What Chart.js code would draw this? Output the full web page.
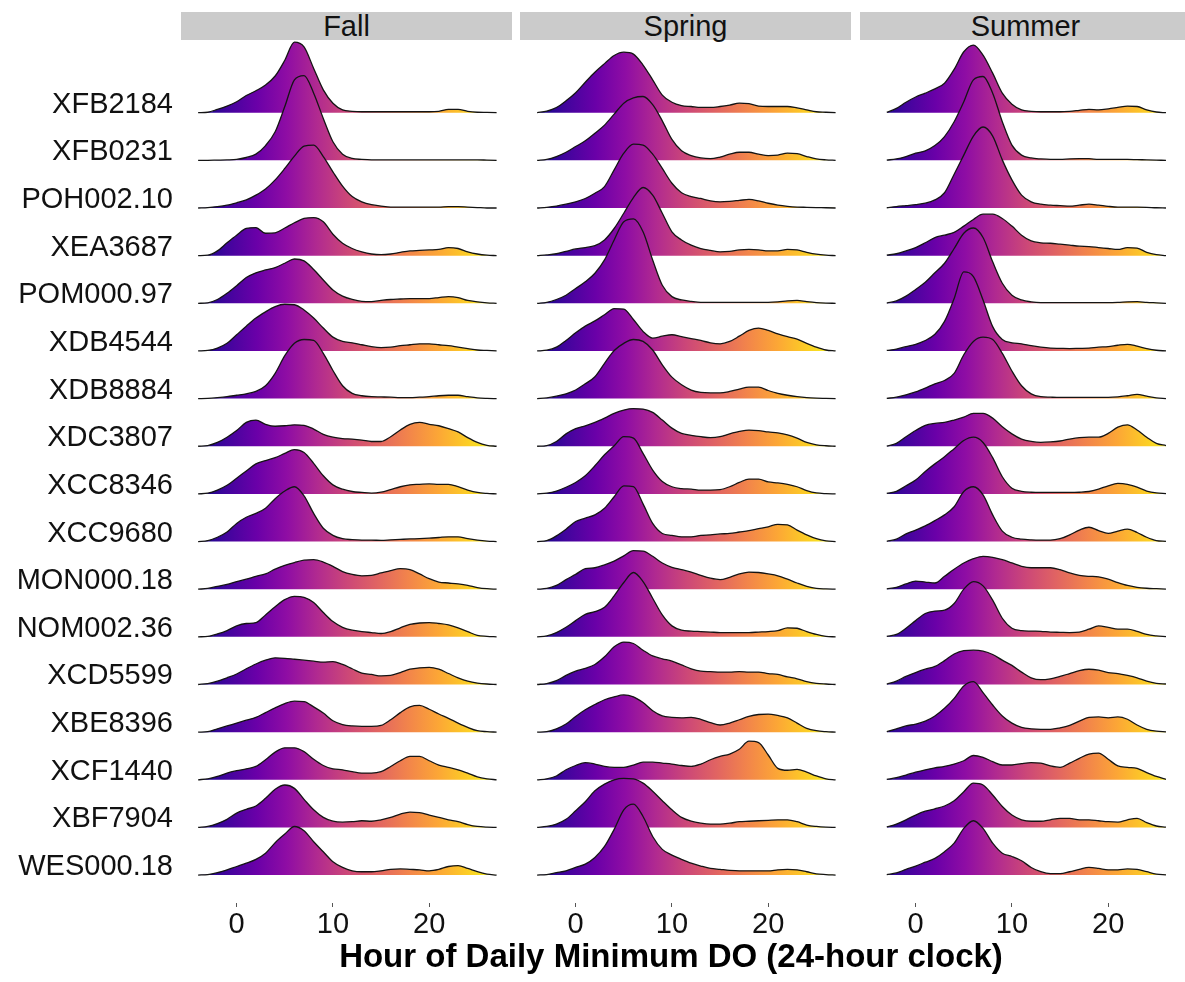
<!DOCTYPE html>
<html>
<head>
<meta charset="utf-8">
<title>Hour of Daily Minimum DO</title>
<script src="https://cdn.jsdelivr.net/npm/chart.js@4.4.1/dist/chart.umd.min.js"></script>
<style>
  body { margin: 0; width: 1185px; height: 982px; background: #fff; position: relative; overflow: hidden;
         font-family: "Liberation Sans", Arial, sans-serif; }
  canvas { position: absolute; top: 40px; }
  .strip { position: absolute; top: 12px; height: 28px; width: 331px; background: #cbcbcb; color: #111;
           font-size: 29px; line-height: 29px; text-align: center; }
  #xtitle { position: absolute; left: 181px; width: 980px; top: 937px; text-align: center;
            font-size: 33px; font-weight: bold; color: #000; }
</style>
</head>
<body>
<div class="strip" style="left:181px">Fall</div>
<div class="strip" style="left:520px">Spring</div>
<div class="strip" style="left:860px">Summer</div>
<canvas id="fall" width="512" height="913" style="left:0"></canvas>
<canvas id="spring" width="331" height="913" style="left:520px"></canvas>
<canvas id="summer" width="331" height="913" style="left:860px"></canvas>
<div id="xtitle">Hour of Daily Minimum DO (24-hour clock)</div>

<script>
// stations top to bottom
const stations = ['XFB2184', 'XFB0231', 'POH002.10', 'XEA3687', 'POM000.97', 'XDB4544', 'XDB8884',
  'XDC3807', 'XCC8346', 'XCC9680', 'MON000.18', 'NOM002.36', 'XCD5599', 'XBE8396', 'XCF1440',
  'XBF7904', 'WES000.18'];
const seasons = ['Fall', 'Spring', 'Summer'];
const xTicks = [0, 10, 20];

// hour grid of the density curves
const hours = [-4, -3, -2, -1, 0, 1, 2, 3, 4, 5, 6, 7, 8, 9, 10, 11, 12, 13, 14, 15, 16, 17, 18, 19,
  20, 21, 22, 23, 24, 25, 26, 27];
const summerHours = [-3, -2, -1, 0, 1, 2, 3, 4, 5, 6, 7, 8, 9, 10, 11, 12, 13, 14, 15, 16, 17, 18, 19,
  20, 21, 22, 23, 24, 25, 26];

// ridge heights (in row spacings), one list per station
const fallHeights = [
  [0,0.01,0.07,0.14,0.23,0.36,0.46,0.58,0.77,1.10,1.48,1.38,0.93,0.48,0.20,0.06,0.03,0.02,0.02,0.02,0.02,0.02,0.02,0.02,0.02,0.03,0.07,0.07,0.03,0.01,0.005,0],
  [0,0,0.005,0.01,0.02,0.06,0.13,0.31,0.60,1.13,1.69,1.78,1.41,0.88,0.39,0.13,0.04,0.02,0.01,0.01,0.01,0.01,0.01,0.01,0.01,0.01,0.01,0.01,0.01,0.01,0.005,0],
  [0,0.01,0.03,0.06,0.11,0.17,0.27,0.40,0.59,0.83,1.09,1.30,1.32,1.08,0.76,0.46,0.24,0.13,0.07,0.04,0.02,0.02,0.02,0.02,0.02,0.02,0.03,0.03,0.02,0.01,0,0],
  [0,0.01,0.10,0.27,0.43,0.57,0.59,0.47,0.48,0.58,0.69,0.78,0.80,0.71,0.45,0.26,0.15,0.08,0.035,0.02,0.035,0.07,0.10,0.11,0.12,0.13,0.17,0.15,0.08,0.035,0.01,0],
  [0,0.01,0.08,0.21,0.37,0.54,0.64,0.70,0.75,0.84,0.93,0.89,0.71,0.49,0.28,0.15,0.08,0.04,0.035,0.06,0.08,0.09,0.10,0.10,0.10,0.12,0.14,0.12,0.06,0.03,0.01,0],
  [0,0.01,0.06,0.16,0.34,0.52,0.69,0.82,0.93,0.98,0.97,0.86,0.69,0.48,0.29,0.20,0.17,0.13,0.09,0.07,0.08,0.11,0.13,0.15,0.15,0.13,0.11,0.08,0.05,0.02,0.01,0],
  [0,0.005,0.02,0.04,0.07,0.10,0.15,0.27,0.53,0.90,1.16,1.24,1.22,0.95,0.59,0.27,0.11,0.06,0.04,0.035,0.03,0.02,0.02,0.03,0.04,0.06,0.07,0.07,0.04,0.015,0.005,0],
  [0,0.015,0.08,0.19,0.33,0.50,0.55,0.46,0.42,0.43,0.45,0.44,0.36,0.25,0.19,0.16,0.15,0.13,0.10,0.10,0.20,0.34,0.46,0.50,0.46,0.43,0.37,0.30,0.18,0.08,0.02,0],
  [0,0.015,0.08,0.18,0.33,0.48,0.63,0.70,0.76,0.85,0.93,0.87,0.64,0.38,0.19,0.10,0.05,0.03,0.015,0.035,0.09,0.15,0.19,0.20,0.21,0.20,0.20,0.15,0.08,0.03,0.01,0],
  [0,0.02,0.09,0.20,0.38,0.51,0.59,0.70,0.90,1.06,1.15,0.96,0.59,0.28,0.13,0.06,0.04,0.03,0.03,0.025,0.035,0.045,0.055,0.06,0.07,0.085,0.10,0.10,0.06,0.03,0.01,0],
  [0,0.015,0.06,0.10,0.16,0.21,0.27,0.32,0.42,0.50,0.56,0.61,0.62,0.57,0.48,0.37,0.31,0.28,0.29,0.34,0.39,0.43,0.41,0.32,0.22,0.15,0.13,0.11,0.08,0.035,0.01,0],
  [0,0.01,0.06,0.13,0.23,0.28,0.30,0.46,0.63,0.78,0.85,0.83,0.72,0.51,0.32,0.20,0.14,0.11,0.09,0.07,0.11,0.19,0.26,0.29,0.30,0.28,0.25,0.19,0.11,0.03,0.01,0],
  [0,0.02,0.07,0.14,0.22,0.33,0.43,0.51,0.56,0.55,0.53,0.51,0.49,0.47,0.48,0.42,0.33,0.24,0.21,0.18,0.19,0.25,0.32,0.35,0.36,0.32,0.23,0.14,0.07,0.03,0.01,0],
  [0,0.01,0.07,0.13,0.19,0.25,0.31,0.41,0.51,0.60,0.65,0.64,0.53,0.40,0.24,0.16,0.13,0.12,0.12,0.14,0.26,0.41,0.53,0.56,0.48,0.38,0.29,0.19,0.10,0.03,0.01,0],
  [0,0.02,0.07,0.14,0.19,0.23,0.28,0.42,0.58,0.67,0.67,0.59,0.43,0.30,0.23,0.21,0.17,0.14,0.14,0.17,0.28,0.40,0.49,0.49,0.40,0.31,0.26,0.21,0.14,0.06,0.02,0],
  [0,0.02,0.08,0.17,0.30,0.38,0.45,0.61,0.80,0.89,0.82,0.59,0.37,0.21,0.13,0.11,0.12,0.14,0.13,0.16,0.21,0.28,0.32,0.31,0.26,0.21,0.16,0.12,0.06,0.02,0.005,0],
  [0,0.01,0.05,0.11,0.18,0.25,0.33,0.46,0.68,0.86,1.02,0.93,0.70,0.49,0.28,0.16,0.09,0.07,0.07,0.09,0.12,0.13,0.12,0.11,0.09,0.12,0.18,0.20,0.14,0.07,0.02,0]
];

const springHeights = [
  [0,0.035,0.11,0.25,0.42,0.64,0.85,1.03,1.20,1.27,1.23,1.00,0.69,0.37,0.22,0.15,0.13,0.11,0.11,0.13,0.16,0.20,0.19,0.14,0.13,0.13,0.13,0.10,0.06,0.02,0.01,0],
  [0,0.02,0.08,0.17,0.29,0.41,0.57,0.74,0.97,1.20,1.31,1.34,1.17,0.83,0.44,0.20,0.10,0.05,0.035,0.07,0.13,0.17,0.17,0.13,0.10,0.11,0.15,0.14,0.08,0.03,0.01,0],
  [0,0.015,0.04,0.08,0.13,0.20,0.31,0.45,0.80,1.15,1.34,1.32,1.13,0.83,0.52,0.32,0.24,0.20,0.15,0.13,0.14,0.16,0.18,0.15,0.10,0.06,0.035,0.02,0.015,0.01,0.005,0],
  [0,0.015,0.04,0.09,0.14,0.17,0.21,0.33,0.57,0.89,1.22,1.43,1.27,0.89,0.50,0.33,0.22,0.15,0.11,0.08,0.09,0.12,0.13,0.12,0.10,0.10,0.13,0.12,0.07,0.03,0.01,0],
  [0,0.02,0.08,0.17,0.31,0.45,0.63,0.91,1.33,1.71,1.77,1.50,0.91,0.38,0.14,0.07,0.04,0.02,0.02,0.02,0.02,0.02,0.02,0.02,0.02,0.03,0.05,0.06,0.035,0.015,0.005,0],
  [0,0.015,0.08,0.22,0.38,0.52,0.63,0.76,0.89,0.88,0.66,0.41,0.27,0.31,0.34,0.30,0.26,0.22,0.17,0.15,0.20,0.31,0.43,0.48,0.43,0.36,0.30,0.25,0.16,0.08,0.02,0],
  [0,0.015,0.05,0.10,0.18,0.31,0.46,0.74,1.01,1.16,1.24,1.20,1.02,0.71,0.45,0.29,0.18,0.13,0.12,0.12,0.15,0.20,0.24,0.24,0.17,0.11,0.07,0.04,0.02,0.01,0.005,0],
  [0,0.015,0.10,0.26,0.37,0.43,0.50,0.59,0.69,0.76,0.79,0.78,0.71,0.55,0.38,0.27,0.23,0.20,0.18,0.20,0.26,0.31,0.34,0.33,0.30,0.28,0.24,0.17,0.08,0.03,0.01,0],
  [0,0.015,0.06,0.14,0.24,0.38,0.59,0.82,1.01,1.20,1.17,0.85,0.50,0.26,0.15,0.11,0.10,0.08,0.08,0.09,0.15,0.24,0.31,0.31,0.25,0.23,0.20,0.15,0.07,0.02,0.005,0],
  [0,0.02,0.12,0.26,0.42,0.49,0.56,0.70,0.94,1.17,1.15,0.79,0.38,0.17,0.13,0.10,0.10,0.13,0.14,0.16,0.17,0.20,0.23,0.27,0.31,0.36,0.35,0.24,0.14,0.06,0.015,0],
  [0,0.015,0.08,0.20,0.31,0.43,0.45,0.51,0.59,0.70,0.81,0.80,0.69,0.55,0.46,0.41,0.36,0.29,0.23,0.20,0.25,0.32,0.36,0.35,0.32,0.28,0.21,0.13,0.06,0.015,0.005,0],
  [0,0.02,0.09,0.20,0.34,0.47,0.53,0.62,0.86,1.14,1.35,1.16,0.81,0.46,0.23,0.14,0.12,0.11,0.10,0.09,0.09,0.09,0.09,0.10,0.11,0.13,0.19,0.18,0.11,0.05,0.01,0],
  [0,0.02,0.08,0.19,0.28,0.34,0.42,0.58,0.79,0.89,0.86,0.72,0.60,0.54,0.49,0.41,0.33,0.28,0.27,0.26,0.26,0.27,0.26,0.26,0.23,0.21,0.16,0.12,0.06,0.025,0.01,0],
  [0,0.01,0.07,0.17,0.33,0.47,0.58,0.68,0.74,0.78,0.74,0.62,0.45,0.34,0.31,0.30,0.31,0.27,0.20,0.15,0.19,0.26,0.33,0.37,0.38,0.35,0.30,0.19,0.08,0.03,0.01,0],
  [0,0.02,0.08,0.21,0.30,0.36,0.33,0.28,0.26,0.26,0.31,0.37,0.37,0.35,0.33,0.30,0.28,0.33,0.42,0.49,0.54,0.64,0.81,0.78,0.52,0.24,0.20,0.22,0.16,0.08,0.02,0],
  [0,0.02,0.07,0.17,0.35,0.54,0.77,0.91,1.00,1.03,1.02,0.93,0.76,0.56,0.37,0.21,0.13,0.09,0.07,0.07,0.09,0.12,0.13,0.14,0.15,0.16,0.16,0.12,0.05,0.02,0.005,0],
  [0,0.01,0.05,0.09,0.16,0.23,0.37,0.60,0.96,1.37,1.49,1.23,0.81,0.54,0.42,0.33,0.25,0.19,0.14,0.12,0.10,0.09,0.09,0.09,0.09,0.11,0.12,0.11,0.07,0.025,0.01,0]
];

const summerHeights = [
  [0.005,0.09,0.22,0.33,0.41,0.50,0.62,0.91,1.28,1.42,1.21,0.83,0.41,0.18,0.06,0.03,0.02,0.02,0.02,0.03,0.05,0.07,0.06,0.08,0.11,0.14,0.13,0.06,0.015,0],
  [0.005,0.03,0.08,0.15,0.20,0.31,0.50,0.81,1.23,1.69,1.76,1.41,0.81,0.32,0.11,0.05,0.03,0.02,0.02,0.03,0.035,0.035,0.02,0.02,0.02,0.02,0.015,0.01,0.005,0],
  [0.005,0.03,0.05,0.07,0.10,0.17,0.32,0.71,1.11,1.51,1.70,1.51,1.01,0.59,0.27,0.13,0.08,0.06,0.05,0.04,0.06,0.08,0.06,0.035,0.02,0.02,0.02,0.015,0.005,0],
  [0.01,0.04,0.10,0.17,0.27,0.38,0.43,0.49,0.62,0.76,0.87,0.87,0.78,0.62,0.43,0.31,0.27,0.26,0.24,0.22,0.20,0.19,0.17,0.15,0.13,0.17,0.16,0.07,0.02,0],
  [0.005,0.05,0.15,0.29,0.44,0.64,0.84,1.15,1.47,1.58,1.38,0.87,0.42,0.17,0.07,0.03,0.015,0.015,0.015,0.015,0.015,0.015,0.015,0.015,0.02,0.03,0.035,0.02,0.01,0],
  [0.01,0.04,0.09,0.14,0.22,0.35,0.62,1.10,1.66,1.56,1.07,0.51,0.24,0.17,0.15,0.11,0.08,0.06,0.055,0.05,0.055,0.06,0.08,0.09,0.12,0.14,0.10,0.05,0.015,0],
  [0.005,0.03,0.08,0.14,0.22,0.31,0.38,0.53,0.92,1.20,1.29,1.24,0.95,0.58,0.27,0.10,0.04,0.03,0.025,0.025,0.025,0.025,0.025,0.025,0.035,0.06,0.09,0.05,0.015,0],
  [0.005,0.06,0.20,0.33,0.44,0.48,0.50,0.55,0.61,0.69,0.69,0.59,0.41,0.26,0.15,0.10,0.08,0.09,0.11,0.15,0.18,0.19,0.19,0.27,0.40,0.45,0.34,0.19,0.06,0.015],
  [0.01,0.055,0.17,0.29,0.47,0.63,0.78,0.95,1.12,1.19,1.08,0.76,0.36,0.12,0.055,0.035,0.03,0.03,0.03,0.03,0.035,0.05,0.10,0.17,0.22,0.20,0.14,0.06,0.02,0.005],
  [0.005,0.05,0.16,0.24,0.33,0.44,0.56,0.73,1.05,1.15,0.98,0.56,0.22,0.09,0.05,0.035,0.03,0.03,0.06,0.14,0.24,0.30,0.23,0.17,0.22,0.26,0.19,0.09,0.02,0.005],
  [0.005,0.04,0.11,0.17,0.15,0.13,0.27,0.42,0.55,0.64,0.69,0.67,0.62,0.55,0.48,0.45,0.45,0.45,0.41,0.34,0.29,0.27,0.26,0.21,0.14,0.08,0.04,0.02,0.01,0],
  [0.01,0.05,0.18,0.34,0.49,0.54,0.56,0.70,1.00,1.16,1.07,0.77,0.39,0.18,0.13,0.12,0.115,0.10,0.095,0.09,0.10,0.16,0.23,0.20,0.16,0.16,0.115,0.05,0.02,0.005],
  [0.01,0.07,0.17,0.25,0.32,0.38,0.50,0.64,0.71,0.72,0.70,0.63,0.51,0.40,0.26,0.14,0.10,0.12,0.17,0.23,0.29,0.32,0.30,0.25,0.23,0.19,0.14,0.07,0.025,0.01],
  [0.01,0.07,0.13,0.17,0.23,0.34,0.50,0.71,0.97,1.06,0.83,0.57,0.34,0.19,0.10,0.07,0.06,0.06,0.09,0.14,0.23,0.31,0.32,0.30,0.32,0.27,0.15,0.06,0.02,0.005],
  [0.01,0.045,0.10,0.16,0.21,0.25,0.28,0.33,0.40,0.51,0.47,0.38,0.31,0.31,0.34,0.36,0.35,0.29,0.26,0.35,0.45,0.54,0.56,0.43,0.29,0.26,0.24,0.15,0.07,0.01],
  [0.01,0.07,0.16,0.26,0.34,0.39,0.45,0.56,0.75,0.93,0.89,0.68,0.44,0.26,0.16,0.13,0.13,0.16,0.19,0.19,0.16,0.16,0.14,0.12,0.11,0.16,0.19,0.10,0.03,0.005],
  [0.01,0.045,0.12,0.19,0.27,0.35,0.49,0.67,0.98,1.14,0.98,0.67,0.46,0.39,0.30,0.16,0.07,0.03,0.03,0.07,0.12,0.16,0.14,0.11,0.11,0.13,0.12,0.07,0.02,0.005]
];

// viridis "plasma" stops, spread over the hour range of the fill
const plasma = ['#0d0887', '#41049d', '#6a00a8', '#8f0da4', '#b12a90', '#cc4778',
  '#e16462', '#f2844b', '#fca636', '#fcce25', '#f0f921'];
const fillRange = [-4.2, 27.2];

Chart.defaults.font.family = '"Liberation Sans", Arial, sans-serif';

function plasmaGradient(context) {
  const chart = context.chart;
  if (!chart.chartArea) return plasma[4];
  const xs = chart.scales.x;
  const g = chart.ctx.createLinearGradient(xs.getPixelForValue(fillRange[0]), 0,
    xs.getPixelForValue(fillRange[1]), 0);
  plasma.forEach((c, k) => g.addColorStop(k / (plasma.length - 1), c));
  return g;
}

function ridgeDatasets(heights, xs) {
  const top = stations.length - 1;
  return heights.map((row, i) => {
    const base = top - i;
    return {
      label: stations[i],
      data: row.map((v, k) => ({ x: xs[k], y: base + v })),
      fill: { value: base },
      backgroundColor: plasmaGradient,
      borderColor: '#141414',
      borderWidth: 1.3,
      borderJoinStyle: 'round',
      pointRadius: 0,
      cubicInterpolationMode: 'monotone',
      order: base  // upper ridges first, lower ones painted over them
    };
  });
}

function makePanel(id, heights, xs, showLabels) {
  const top = stations.length - 1;
  return new Chart(document.getElementById(id), {
    type: 'line',
    data: { datasets: ridgeDatasets(heights, xs) },
    options: {
      responsive: false,
      animation: false,
      layout: { padding: 0 },
      plugins: { legend: { display: false }, tooltip: { enabled: false } },
      scales: {
        x: {
          type: 'linear',
          min: -5.78,
          max: 28.6,
          afterBuildTicks: s => { s.ticks = xTicks.map(v => ({ value: v })); },
          afterFit: s => {
            s.height = 50;
            s.paddingLeft = 0;
            s.paddingRight = 0;
          },
          grid: { drawOnChartArea: false, drawTicks: true, tickLength: 4, color: '#555', lineWidth: 1 },
          border: { display: false },
          ticks: { font: { size: 29 }, color: '#111', padding: 1, maxRotation: 0, autoSkip: false }
        },
        y: {
          type: 'linear',
          min: -0.586,
          max: 17.526,
          display: showLabels,
          afterBuildTicks: s => { s.ticks = stations.map((_, i) => ({ value: top - i })); },
          afterFit: s => {
            s.width = showLabels ? 181 : 0;
            s.paddingTop = 0;
            s.paddingBottom = 0;
          },
          grid: { display: false, drawTicks: false },
          border: { display: false },
          ticks: {
            font: { size: 29 }, color: '#111', padding: 8, labelOffset: -8, autoSkip: false,
            callback: v => stations[top - v]
          }
        }
      }
    }
  });
}

makePanel('fall', fallHeights, hours, true);
makePanel('spring', springHeights, hours, false);
makePanel('summer', summerHeights, summerHours, false);
</script>
</body>
</html>
